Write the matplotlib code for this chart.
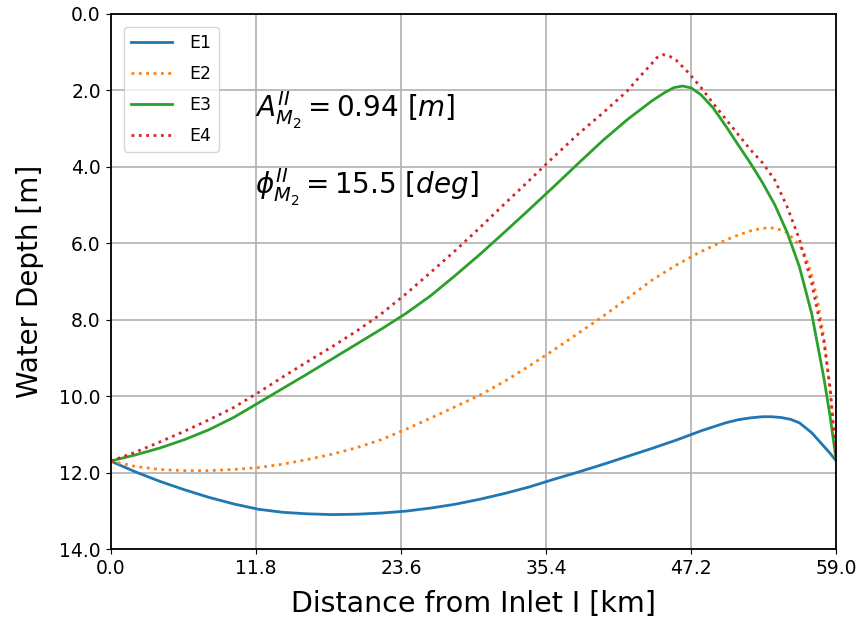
import matplotlib
matplotlib.use("Agg")
import matplotlib.pyplot as plt

x_e1 = [0, 2, 4, 6, 8, 10, 12, 14, 16, 18, 20, 22, 24, 26, 28, 30, 32, 34, 36, 38, 40, 42, 44, 46, 48, 50, 51, 52, 53, 53.7, 54.5, 55.3, 56, 57, 58, 58.5, 59]
e1 = [11.70, 11.98, 12.23, 12.45, 12.65, 12.82, 12.96, 13.04, 13.08, 13.10, 13.09, 13.06, 13.01, 12.93, 12.83, 12.70, 12.55, 12.38, 12.18, 11.99, 11.79, 11.58, 11.37, 11.15, 10.91, 10.70, 10.62, 10.57, 10.54, 10.54, 10.56, 10.61, 10.70, 10.96, 11.32, 11.50, 11.70]

x_e2 = [0, 2, 4, 6, 8, 10, 12, 14, 16, 18, 20, 22, 24, 26, 28, 30, 32, 34, 36, 38, 40, 42, 44, 46, 48, 50, 51, 52, 53, 54, 55, 56, 56.5, 57, 57.5, 58, 58.5, 59]
e2 = [11.70, 11.84, 11.92, 11.95, 11.95, 11.92, 11.87, 11.78, 11.66, 11.52, 11.35, 11.14, 10.87, 10.58, 10.28, 9.98, 9.62, 9.22, 8.80, 8.36, 7.92, 7.45, 6.97, 6.57, 6.22, 5.92, 5.79, 5.68, 5.61, 5.60, 5.72, 6.05, 6.35, 6.85, 7.56, 8.50, 9.90, 11.70]

x_e3 = [0, 2, 4, 6, 8, 10, 11.8, 14, 16, 18, 20, 22, 24, 26, 28, 30, 32, 34, 36, 38, 40, 42, 44, 45, 45.8, 46.5, 47.2, 48, 49, 50, 51, 52, 53, 54, 55, 56, 57, 58, 58.5, 59]
e3 = [11.70, 11.54, 11.36, 11.14, 10.88, 10.56, 10.22, 9.80, 9.42, 9.03, 8.64, 8.25, 7.84, 7.38, 6.85, 6.30, 5.72, 5.13, 4.53, 3.92, 3.32, 2.77, 2.28, 2.07, 1.93, 1.89, 1.94, 2.12, 2.47, 2.93, 3.42, 3.90, 4.42, 5.00, 5.72, 6.62, 7.85, 9.55, 10.55, 11.70]

x_e4 = [0, 2, 4, 6, 8, 10, 12, 14, 16, 18, 20, 22, 24, 26, 28, 30, 32, 34, 36, 38, 40, 42, 43, 44, 44.4, 44.9, 45.4, 46, 47, 48, 49, 50, 51, 52, 53, 54, 55, 56, 57, 58, 58.5, 59]
e4 = [11.70, 11.47, 11.20, 10.92, 10.62, 10.30, 9.91, 9.50, 9.10, 8.71, 8.30, 7.85, 7.33, 6.77, 6.20, 5.60, 4.98, 4.37, 3.75, 3.15, 2.60, 2.02, 1.65, 1.30, 1.15, 1.07, 1.10, 1.22, 1.55, 1.93, 2.35, 2.75, 3.15, 3.55, 3.90, 4.35, 5.05, 5.90, 7.05, 8.60, 9.80, 11.70]

x_ticks = [0.0, 11.8, 23.6, 35.4, 47.2, 59.0]
y_ticks = [0.0, 2.0, 4.0, 6.0, 8.0, 10.0, 12.0, 14.0]

fig = plt.figure(figsize=(8.64, 6.26), dpi=100)
ax = fig.add_axes([0.128, 0.123, 0.840, 0.855])

ax.plot(x_e1, e1, color='#1f77b4', lw=2, ls='-', label='E1')
ax.plot(x_e2, e2, color='#ff7f0e', lw=2, ls=':', label='E2')
ax.plot(x_e3, e3, color='#2ca02c', lw=2, ls='-', label='E3')
ax.plot(x_e4, e4, color='#d62728', lw=2, ls=':', label='E4')

ax.set_xlim(0, 59)
ax.set_ylim(14, 0)
ax.set_xticks(x_ticks)
ax.set_xticklabels([f"{v:.1f}" for v in x_ticks], fontsize=13.5)
ax.set_yticks(y_ticks)
ax.set_yticklabels([f"{v:.1f}" for v in y_ticks], fontsize=13.5)
ax.grid(True, color='#b0b0b0', lw=1.2)
for s in ax.spines.values():
    s.set_linewidth(1.3)

ax.set_xlabel('Distance from Inlet I [km]', fontsize=20.5, labelpad=9)
ax.set_ylabel('Water Depth [m]', fontsize=20, labelpad=11)

ax.text(11.7, 2.52, r'$A^{II}_{M_2} = 0.94\ [m]$', fontsize=20, va='center', ha='left')
ax.text(11.7, 4.55, r'$\phi^{II}_{M_2} = 15.5\ [deg]$', fontsize=20, va='center', ha='left')

ax.legend(loc='upper left', fontsize=12.5, handlelength=2.4, handletextpad=1.0,
          labelspacing=0.75, borderaxespad=0.75)

fig.savefig('out.png', dpi=100)
